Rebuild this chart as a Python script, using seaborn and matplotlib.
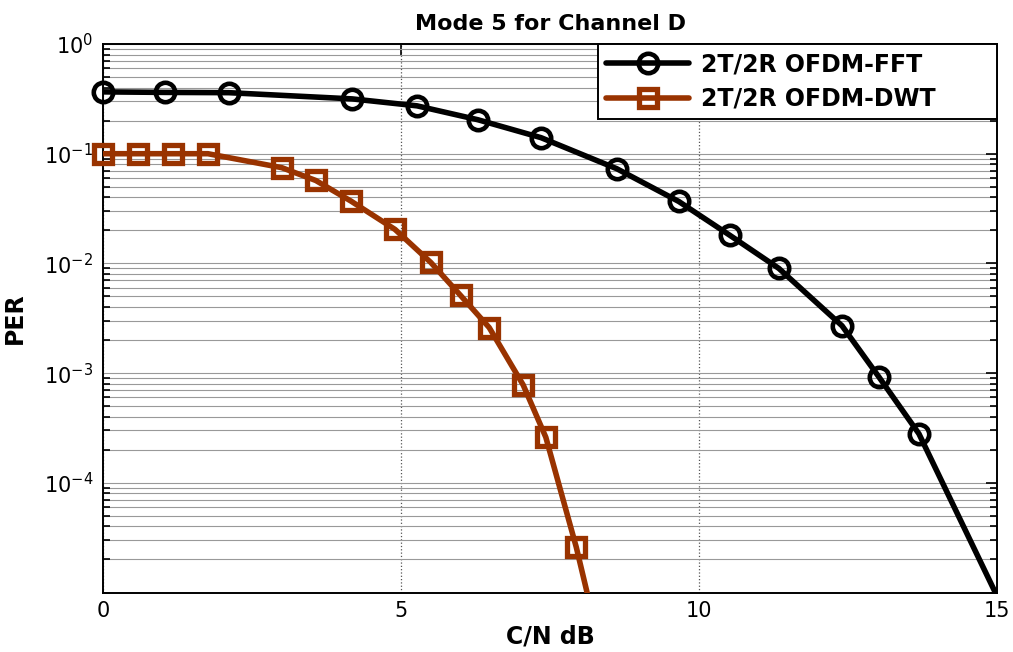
import numpy as np
import pandas as pd
import matplotlib
matplotlib.use("Agg")
import matplotlib.pyplot as plt
from matplotlib.lines import Line2D
from matplotlib.ticker import LogLocator, FixedLocator, NullFormatter
import seaborn as sns

# --- data (last point lies outside the view, clipped) ---
cn_fft = [0.0, 1.04, 2.11, 4.18, 5.27, 6.29, 7.35, 8.62, 9.66, 10.52, 11.34, 12.40, 13.02, 13.69, 15.27]
per_fft = [0.366, 0.362, 0.360, 0.316, 0.273, 0.204, 0.14, 0.073, 0.0367, 0.018, 0.009,
           0.0027, 0.00092, 0.00028, 4.6e-6]

cn_dwt = [0.0, 0.59, 1.17, 1.76, 3.0, 3.57, 4.16, 4.9, 5.5, 6.0, 6.48, 7.05, 7.43, 7.94, 8.27]
per_dwt = [0.1, 0.1, 0.1, 0.1, 0.0746, 0.057, 0.037, 0.0204, 0.0102, 0.0051, 0.0026,
           0.00078, 0.00026, 2.6e-5, 4.6e-6]

labels = ["2T/2R OFDM-FFT", "2T/2R OFDM-DWT"]
colors = ["black", "#993300"]
markers = ["o", "s"]

df = pd.concat([
    pd.DataFrame({"cn": cn_fft, "per": per_fft, "series": labels[0]}),
    pd.DataFrame({"cn": cn_dwt, "per": per_dwt, "series": labels[1]}),
])

sns.set_theme(style="white")
plt.rcParams["font.family"] = ["DejaVu Sans"]
plt.rcParams["text.color"] = "black"
plt.rcParams["axes.labelcolor"] = "black"

fig = plt.figure(figsize=(10.13, 6.52), dpi=100)
ax = fig.add_axes([103 / 1013, 1 - 593 / 652, (997 - 103) / 1013, (593 - 44) / 652])

handles = []
for lab, col, mk, ms, mew in zip(labels, colors, markers, [14, 12.5], [3.3, 3.8]):
    sub = df[df["series"] == lab]
    # the line, clipped to the axes
    sns.lineplot(data=sub, x="cn", y="per", color=col, lw=4, ax=ax, sort=False,
                 estimator=None, zorder=3)
    # the markers, not clipped (points inside the view only)
    vis = sub.iloc[:-1]
    sns.lineplot(data=vis, x="cn", y="per", ax=ax, sort=False, estimator=None,
                 linestyle="", marker=mk, markersize=ms, markerfacecolor="none",
                 markeredgecolor=col, markeredgewidth=mew, clip_on=False, zorder=4)
    handles.append(Line2D([], [], color=col, lw=4, marker=mk, markersize=ms,
                          markerfacecolor="none", markeredgecolor=col, markeredgewidth=mew))

ax.set_yscale("log")
ax.set_xlim(0, 15)
ax.set_ylim(1e-5 * 0.99, 1.0)

ax.xaxis.set_major_locator(FixedLocator([0, 5, 10, 15]))
ax.yaxis.set_major_locator(FixedLocator([1e-4, 1e-3, 1e-2, 1e-1, 1e0]))
ax.yaxis.set_minor_locator(LogLocator(base=10, subs=np.arange(1, 10), numticks=20))
ax.yaxis.set_minor_formatter(NullFormatter())

ax.grid(True, which="major", axis="x", color="#555555", linestyle=":", linewidth=0.9)
ax.grid(True, which="both", axis="y", color="#999999", linestyle="-", linewidth=0.8)
ax.set_axisbelow(True)

for s in ax.spines.values():
    s.set_color("black")
    s.set_linewidth(1.4)
    s.set_visible(True)

ax.tick_params(which="both", direction="in", top=True, right=True, colors="black",
               labelcolor="black", labelsize=15, width=1.2)
ax.tick_params(axis="x", pad=6)
ax.tick_params(axis="y", pad=7)
ax.tick_params(which="major", length=8)
ax.tick_params(which="minor", length=5, left=True, right=True)

ax.set_title("Mode 5 for Channel D", fontsize=16, fontweight="bold", pad=10, color="black")
ax.set_xlabel("C/N dB", fontsize=17, fontweight="bold", labelpad=2)
ax.set_ylabel("PER", fontsize=17, fontweight="bold", labelpad=12)

# legend box spans from x=598px to the right spine, like the reference
x0 = (598 - 103) / (997 - 103)
leg = ax.legend(handles, labels, loc="upper right",
                bbox_to_anchor=(x0, 0.8, 1 - x0, 0.2), mode="expand",
                borderaxespad=0, fancybox=False, framealpha=1, edgecolor="black",
                prop={"size": 17, "weight": "bold"}, handlelength=3.5,
                borderpad=0.35, labelspacing=0.45, handletextpad=0.5)
leg.get_frame().set_linewidth(1.4)
leg.set_zorder(10)

fig.savefig("out.png", dpi=100)
